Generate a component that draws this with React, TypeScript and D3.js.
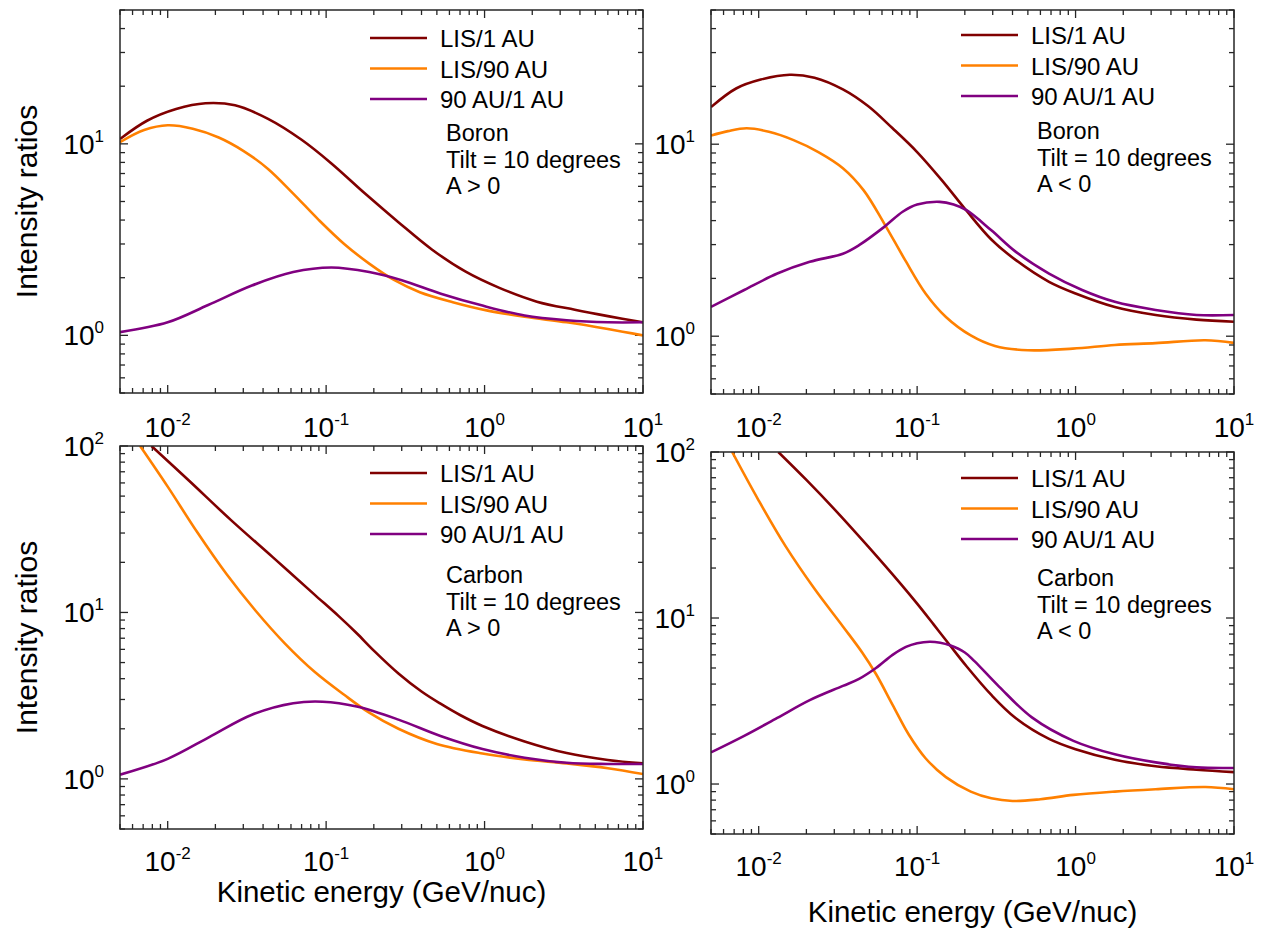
import React from 'react';
import * as d3 from 'd3';

// ---------- legend / series ----------
const seriesNames = ['LIS/1 AU', 'LIS/90 AU', '90 AU/1 AU'];
const seriesColors = ['#800000', '#ff8000', '#800080'];

// ---------- Boron, A > 0 ----------
const boronPosLis1E = [0.005, 0.0074, 0.0113, 0.0173, 0.0266, 0.043, 0.07, 0.108, 0.176, 0.286, 0.467, 0.76, 1.24, 2.14, 3.71, 6.0, 10];
const boronPosLis1V = [10.6, 13.2, 15.2, 16.3, 15.9, 13.5, 10.5, 7.9, 5.5, 3.9, 2.8, 2.15, 1.77, 1.5, 1.36, 1.26, 1.17];
const boronPosLis90E = [0.005, 0.0071, 0.01, 0.0144, 0.021, 0.03, 0.043, 0.062, 0.09, 0.13, 0.187, 0.27, 0.39, 0.63, 1.03, 1.79, 3.3, 6.0, 10];
const boronPosLis90V = [10.2, 11.8, 12.5, 12.0, 10.8, 9.2, 7.4, 5.5, 4.0, 3.0, 2.37, 1.94, 1.68, 1.49, 1.35, 1.25, 1.17, 1.08, 1.0];
const boronPos90E = [0.005, 0.01, 0.018, 0.034, 0.062, 0.108, 0.187, 0.3, 0.53, 0.97, 1.79, 3.3, 6.0, 10];
const boronPos90V = [1.04, 1.17, 1.44, 1.82, 2.14, 2.26, 2.14, 1.94, 1.65, 1.43, 1.27, 1.2, 1.17, 1.17];

// ---------- Boron, A < 0 ----------
const boronNegLis1E = [0.005, 0.0072, 0.0103, 0.0157, 0.0225, 0.034, 0.049, 0.07, 0.1, 0.143, 0.205, 0.294, 0.42, 0.68, 1.0, 1.77, 3.2, 5.8, 10];
const boronNegLis1V = [15.6, 19.5, 21.7, 23.0, 22.2, 19.3, 15.8, 12.1, 9.1, 6.5, 4.5, 3.19, 2.49, 1.92, 1.67, 1.42, 1.29, 1.22, 1.19];
const boronNegLis90E = [0.005, 0.0064, 0.0084, 0.0116, 0.0166, 0.0238, 0.034, 0.046, 0.062, 0.084, 0.113, 0.152, 0.218, 0.31, 0.5, 0.96, 1.77, 3.2, 6.6, 10];
const boronNegLis90V = [11.1, 11.7, 12.1, 11.6, 10.5, 9.1, 7.5, 5.75, 3.86, 2.49, 1.67, 1.26, 1.01, 0.89, 0.845, 0.862, 0.9, 0.92, 0.953, 0.923];
const boronNeg90E = [0.005, 0.0081, 0.0131, 0.021, 0.034, 0.043, 0.062, 0.081, 0.1, 0.139, 0.17, 0.205, 0.294, 0.42, 0.68, 1.1, 1.77, 3.2, 5.8, 10];
const boronNeg90V = [1.42, 1.74, 2.12, 2.44, 2.69, 2.98, 3.71, 4.45, 4.85, 5.01, 4.85, 4.53, 3.56, 2.75, 2.12, 1.74, 1.51, 1.37, 1.29, 1.29];

// ---------- Carbon, A > 0 ----------
const carbonPosLis1E = [0.0079, 0.0136, 0.025, 0.046, 0.0845, 0.12, 0.156, 0.2, 0.286, 0.4, 0.527, 0.7, 0.97, 1.79, 3.3, 6.0, 10];
const carbonPosLis1V = [100, 62, 36, 21.5, 12.8, 9.5, 7.5, 5.9, 4.3, 3.35, 2.83, 2.42, 2.08, 1.68, 1.43, 1.3, 1.24];
const carbonPosLis90E = [0.0067, 0.01, 0.0153, 0.0235, 0.036, 0.055, 0.0845, 0.13, 0.187, 0.286, 0.5, 0.97, 1.79, 3.3, 6.0, 10];
const carbonPosLis90V = [100, 57, 30.5, 17, 10.2, 6.5, 4.4, 3.2, 2.5, 2.0, 1.62, 1.42, 1.31, 1.24, 1.16, 1.07];
const carbonPos90E = [0.005, 0.01, 0.0184, 0.034, 0.062, 0.095, 0.156, 0.286, 0.527, 0.97, 1.79, 3.3, 6.0, 10];
const carbonPos90V = [1.06, 1.32, 1.79, 2.43, 2.85, 2.91, 2.72, 2.27, 1.81, 1.51, 1.34, 1.25, 1.23, 1.23];

// ---------- Carbon, A < 0 ----------
const carbonNegLis1E = [0.0133, 0.02, 0.03, 0.049, 0.079, 0.1, 0.127, 0.161, 0.205, 0.294, 0.42, 0.68, 1.0, 1.77, 3.2, 5.8, 10];
const carbonNegLis1V = [100, 67.9, 45.3, 27.0, 16.0, 12.2, 9.15, 6.85, 5.12, 3.44, 2.49, 1.87, 1.62, 1.4, 1.28, 1.22, 1.18];
const carbonNegLis90E = [0.0068, 0.01, 0.0148, 0.0225, 0.034, 0.045, 0.055, 0.07, 0.0887, 0.113, 0.152, 0.218, 0.294, 0.4, 0.6, 0.97, 1.77, 3.2, 6.6, 10];
const carbonNegLis90V = [100, 51, 27, 15, 8.9, 6.2, 4.6, 3.0, 1.98, 1.43, 1.1, 0.9, 0.82, 0.79, 0.81, 0.86, 0.9, 0.93, 0.96, 0.93];
const carbonNeg90E = [0.005, 0.0081, 0.0131, 0.021, 0.034, 0.043, 0.055, 0.07, 0.085, 0.1, 0.12, 0.14, 0.161, 0.2, 0.23, 0.33, 0.53, 0.97, 1.77, 3.2, 5.8, 10];
const carbonNeg90V = [1.55, 1.95, 2.5, 3.2, 3.9, 4.3, 5.0, 6.0, 6.7, 7.05, 7.2, 7.1, 6.85, 6.2, 5.5, 3.85, 2.52, 1.82, 1.51, 1.35, 1.26, 1.25];

// ---------- axes ----------
const xDomain = [0.005, 10];
const xMajorExps = [-2, -1, 0, 1];
const yDomainTop = [0.5, 50];
const yDomainBottom = [0.5, 100];
const yMajorExpsTop = [0, 1];
const yMajorExpsBottom = [0, 1, 2];
const yTitle = 'Intensity ratios';
const xTitle = 'Kinetic energy (GeV/nuc)';

const zip = (e: number[], v: number[]) => e.map((x, i) => [x, v[i]] as [number, number]);

type Panel = {
  id: string;
  left: number; right: number; top: number; bottom: number;
  yDomain: number[]; yExps: number[];
  series: [number, number][][];
  desc: string[];
  legendDy: number; descDy: number;
  showYTitle: boolean; xTitleY: number | null; xLabelY: number;
};

const panels: Panel[] = [
  {
    id: 'tl', left: 120, right: 643, top: 10, bottom: 393,
    yDomain: yDomainTop, yExps: yMajorExpsTop,
    series: [zip(boronPosLis1E, boronPosLis1V), zip(boronPosLis90E, boronPosLis90V), zip(boronPos90E, boronPos90V)],
    desc: ['Boron', 'Tilt = 10 degrees', 'A > 0'],
    legendDy: 28, descDy: 131, showYTitle: true, xTitleY: null, xLabelY: 437,
  },
  {
    id: 'tr', left: 711, right: 1234, top: 10, bottom: 394,
    yDomain: yDomainTop, yExps: yMajorExpsTop,
    series: [zip(boronNegLis1E, boronNegLis1V), zip(boronNegLis90E, boronNegLis90V), zip(boronNeg90E, boronNeg90V)],
    desc: ['Boron', 'Tilt = 10 degrees', 'A < 0'],
    legendDy: 25, descDy: 129, showYTitle: false, xTitleY: null, xLabelY: 437,
  },
  {
    id: 'bl', left: 120, right: 643, top: 446, bottom: 829,
    yDomain: yDomainBottom, yExps: yMajorExpsBottom,
    series: [zip(carbonPosLis1E, carbonPosLis1V), zip(carbonPosLis90E, carbonPosLis90V), zip(carbonPos90E, carbonPos90V)],
    desc: ['Carbon', 'Tilt = 10 degrees', 'A > 0'],
    legendDy: 27, descDy: 137, showYTitle: true, xTitleY: 902, xLabelY: 871,
  },
  {
    id: 'br', left: 711, right: 1234, top: 452, bottom: 834,
    yDomain: yDomainBottom, yExps: yMajorExpsBottom,
    series: [zip(carbonNegLis1E, carbonNegLis1V), zip(carbonNegLis90E, carbonNegLis90V), zip(carbonNeg90E, carbonNeg90V)],
    desc: ['Carbon', 'Tilt = 10 degrees', 'A < 0'],
    legendDy: 26, descDy: 134, showYTitle: false, xTitleY: 922, xLabelY: 876,
  },
];

const FONT = '"Liberation Sans", Arial, Helvetica, sans-serif';
const AXIS = '#262626';

function logTicks(domain: number[]) {
  const out: { v: number; major: boolean }[] = [];
  const lo = Math.floor(Math.log10(domain[0]));
  const hi = Math.ceil(Math.log10(domain[1]));
  for (let k = lo; k <= hi; k++) {
    for (let m = 1; m <= 9; m++) {
      const v = m * Math.pow(10, k);
      if (v >= domain[0] * 0.9999 && v <= domain[1] * 1.0001) out.push({ v, major: m === 1 });
    }
  }
  return out;
}

function PanelView({ p }: { p: Panel }) {
  const x = d3.scaleLog().domain(xDomain).range([p.left, p.right]);
  const y = d3.scaleLog().domain(p.yDomain).range([p.bottom, p.top]);
  const line = d3.line<[number, number]>()
    .x(d => x(d[0]))
    .y(d => y(d[1]))
    .curve(d3.curveCatmullRom.alpha(0.5));
  const xt = logTicks(xDomain);
  const yt = logTicks(p.yDomain);
  const majLen = 8, minLen = 5;
  const legX1 = p.left + 250, legX2 = p.left + 307, legTextX = p.left + 320, descX = p.left + 326;
  return (
    <g>
      <defs>
        <clipPath id={`clip-${p.id}`}>
          <rect x={p.left} y={p.top} width={p.right - p.left} height={p.bottom - p.top} />
        </clipPath>
      </defs>
      {xt.map((t, i) => {
        const px = x(t.v);
        const len = t.major ? majLen : minLen;
        return (
          <g key={'xt' + i} stroke={AXIS} strokeWidth={1.3}>
            <line x1={px} x2={px} y1={p.bottom} y2={p.bottom - len} />
            <line x1={px} x2={px} y1={p.top} y2={p.top + len} />
          </g>
        );
      })}
      {yt.map((t, i) => {
        const py = y(t.v);
        const len = t.major ? majLen : minLen;
        return (
          <g key={'yt' + i} stroke={AXIS} strokeWidth={1.3}>
            <line x1={p.left} x2={p.left + len} y1={py} y2={py} />
            <line x1={p.right} x2={p.right - len} y1={py} y2={py} />
          </g>
        );
      })}
      <g clipPath={`url(#clip-${p.id})`}>
        {p.series.map((s, i) => (
          <path key={i} d={line(s) || ''} fill="none" stroke={seriesColors[i]} strokeWidth={2.6} strokeLinejoin="round" />
        ))}
      </g>
      <rect x={p.left} y={p.top} width={p.right - p.left} height={p.bottom - p.top} fill="none" stroke={AXIS} strokeWidth={1.5} />
      {xMajorExps.map(e => (
        <text key={'xl' + e} x={x(Math.pow(10, e))} y={p.xLabelY} textAnchor="middle" fontSize={28} fontFamily={FONT} fill="#000">
          10<tspan dy={-12} fontSize={17}>{String(e)}</tspan>
        </text>
      ))}
      {p.yExps.map(e => (
        <text key={'yl' + e} x={p.left - 16} y={y(Math.pow(10, e)) + 10} textAnchor="end" fontSize={28} fontFamily={FONT} fill="#000">
          10<tspan dy={-12} fontSize={17}>{String(e)}</tspan>
        </text>
      ))}
      {seriesNames.map((n, i) => {
        const ly = p.top + p.legendDy + i * 30.5;
        return (
          <g key={'lg' + i}>
            <line x1={legX1} x2={legX2} y1={ly} y2={ly} stroke={seriesColors[i]} strokeWidth={2.6} />
            <text x={legTextX} y={ly + 9} fontSize={24} fontFamily={FONT} fill="#000">{n}</text>
          </g>
        );
      })}
      {p.desc.map((d, i) => (
        <text key={'ds' + i} x={descX} y={p.top + p.descDy + i * 26.7} fontSize={23.5} fontFamily={FONT} fill="#000">{d}</text>
      ))}
      {p.showYTitle && (
        <text transform={`translate(37,${(p.top + p.bottom) / 2}) rotate(-90)`} textAnchor="middle" fontSize={30} fontFamily={FONT} fill="#000">{yTitle}</text>
      )}
      {p.xTitleY !== null && (
        <text x={(p.left + p.right) / 2} y={p.xTitleY} textAnchor="middle" fontSize={29.5} fontFamily={FONT} fill="#000">{xTitle}</text>
      )}
    </g>
  );
}

export default function App() {
  return (
    <svg width={1264} height={939} viewBox="0 0 1264 939" style={{ position: 'absolute', left: 0, top: 0, background: '#fff' }}>
      <rect x={0} y={0} width={1264} height={939} fill="#fff" />
      {panels.map(p => <PanelView key={p.id} p={p} />)}
    </svg>
  );
}
